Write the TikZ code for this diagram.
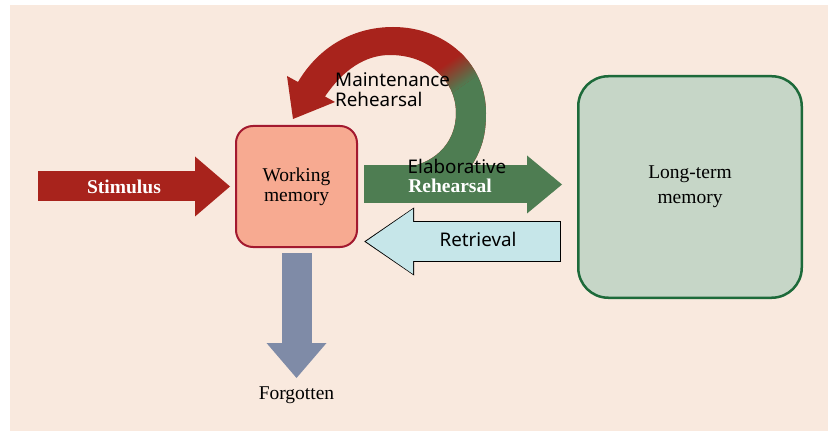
\documentclass[tikz,border=0pt]{standalone}
\usepackage{fontspec}
\setmainfont{Liberation Serif}
\newfontfamily\sanslabel{Noto Sans}
\usetikzlibrary{arrows.meta,positioning}

\definecolor{paper}{HTML}{F9E9DE}
\definecolor{stimred}{HTML}{A8231C}
\definecolor{elabgreen}{HTML}{4E7D52}
\definecolor{wmfill}{HTML}{F7AA91}
\definecolor{wmline}{HTML}{A3192F}
\definecolor{ltmfill}{HTML}{C6D6C7}
\definecolor{ltmline}{HTML}{1D6A3A}
\definecolor{retrfill}{HTML}{C6E6E9}
\definecolor{forgotblue}{HTML}{7F8BA7}

\begin{document}
\begin{tikzpicture}[
        x = 1pt, y = -1pt, % one unit = one pixel, y pointing down
        box/.style = {draw, line width=2pt, align=center,
            font=\fontsize{19.5}{20}\selectfont},
        serif label/.style = {font=\fontsize{19.5}{21}\selectfont, inner sep=0pt},
        white label/.style = {font=\bfseries\fontsize{19.5}{21}\selectfont,
            text=white, inner sep=0pt},
        sans label/.style = {font=\sanslabel\fontsize{18.8}{20}\selectfont,
            inner sep=0pt, align=left}
    ]

    \useasboundingbox (0,0) rectangle (828,433);
    \fill[paper] (10,5) rectangle (828,431);

    % maintenance loop: red at the head, green where it leaves the shaft
    \begin{scope}
        \clip (430,184) -- (470,168) .. controls (482,150) and (486,135) .. (486,113)
            .. controls (486,63) and (445,27) .. (393,27)
            .. controls (352,27) and (318,48) .. (298,82)
            -- (287,76) -- (293,119) -- (335,102) -- (325,96.5)
            .. controls (343,70) and (365,55) .. (390,55)
            .. controls (428,55) and (456,80) .. (456,113)
            .. controls (456,145) and (432,166) .. (400,168)
            -- (400,184) -- cycle;
        \fill[stimred] (270,15) rectangle (500,210);
        \begin{scope}[transform canvas={rotate around={35:(455,74)}}]
            \fill[elabgreen] (-545,88) rectangle (1455,1074);
            \shade[top color=stimred, bottom color=elabgreen] (-545,60) rectangle (1455,88);
        \end{scope}
    \end{scope}

    \node[box, draw=wmline, fill=wmfill, minimum width=121pt, minimum height=121pt,
        rounded corners=17pt] (wm) at (296.5,186.5) {Working\\memory};
    \node[box, draw=ltmline, fill=ltmfill, line width=2.5pt, minimum width=223.5pt,
        minimum height=221.5pt, rounded corners=30pt,
        font=\fontsize{19.5}{25}\selectfont] (ltm) at (690,187) {Long-term\\memory};

    \coordinate (stim) at (38,186.5);
    \coordinate (fgtip) at ([yshift=-130pt]wm.south);
    \coordinate (elab) at ([yshift=2pt]wm.east);
    \coordinate (retr) at ([yshift=-54.5pt]ltm.west);

    \draw[stimred, line width=30pt,
        -{Triangle[length=35pt,width=60pt,line width=0pt]}, shorten >=5pt]
        (stim) -- (wm.west);
    \draw[forgotblue, line width=30pt,
        -{Triangle[length=35pt,width=60pt,line width=0pt]}, shorten <=5pt]
        (wm.south) -- (fgtip);
    \draw[elabgreen, line width=38pt,
        -{Triangle[length=35pt,width=58pt,line width=0pt]},
        shorten <=6pt, shorten >=15pt] (elab) -- (elab -| ltm.west);
    \draw[black, line width=41pt,
        -{Triangle[length=49.75pt,width=68pt,line width=0pt]},
        shorten <=16pt, shorten >=6.25pt] (retr) -- (retr -| wm.east);
    \draw[retrfill, line width=39pt,
        -{Triangle[length=47pt,width=65pt,line width=0pt]},
        shorten <=17pt, shorten >=8pt] (retr) -- (retr -| wm.east);

    \node[white label] (stimtxt) at (124,187) {Stimulus};
    \node[sans label] (elabtxt) at (457,166) {Elaborative};
    \node[white label] (rehtxt) at (450,186) {Rehearsal};
    \node[sans label] (retrtxt) at (478,239.5) {Retrieval};
    \node[sans label, anchor=north west] (mainttxt) at (335,72) {Maintenance\\Rehearsal};
    \node[serif label, anchor=north] (forgot) at ([yshift=-9pt]fgtip) {Forgotten};

\end{tikzpicture}
\end{document}
